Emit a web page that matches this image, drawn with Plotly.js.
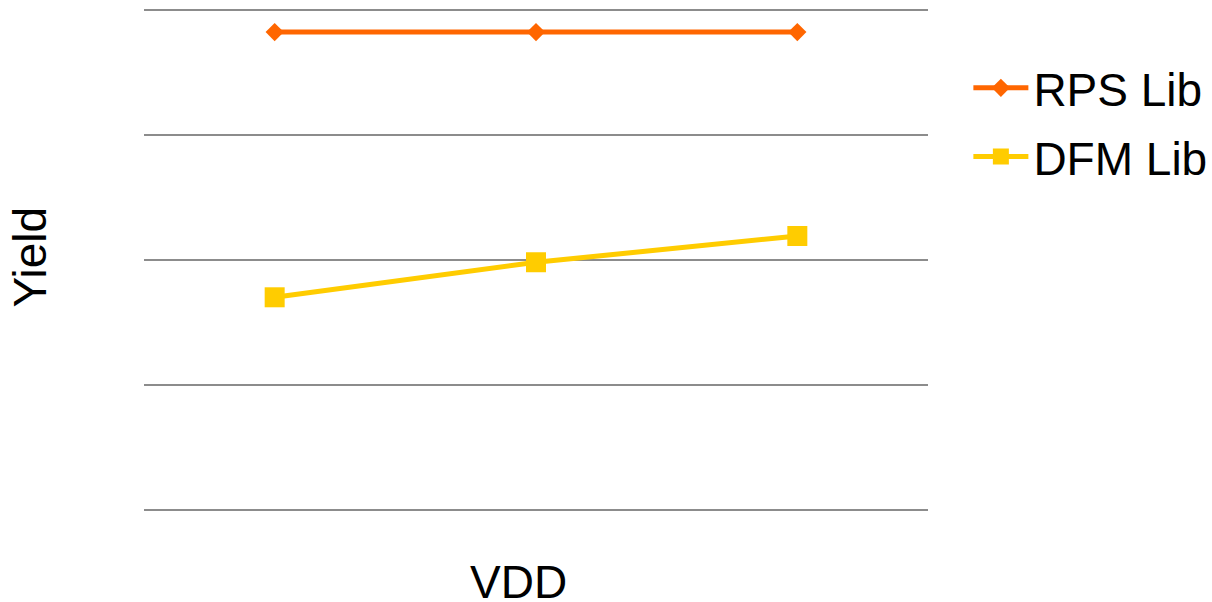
<!DOCTYPE html>
<html>
<head>
<meta charset="utf-8">
<script src="https://cdn.plot.ly/plotly-3.0.1.min.js"></script>
<style>
  html, body { margin: 0; padding: 0; background: #ffffff; }
  #chart { width: 1212px; height: 602px; }
</style>
</head>
<body>
<div id="chart"></div>
<script>
// VDD steps along the horizontal axis (no tick labels are shown)
const vddSteps = [1, 2, 3];

// Yield per library, on a 0–4 grid scale
const rpsYield = [3.82, 3.82, 3.82];
const dfmYield = [1.70, 1.98, 2.19];

const seriesNames = ['RPS Lib', 'DFM Lib'];
const axisTitles = { x: 'VDD', y: 'Yield' };

const fontFamily = 'Arial, "Liberation Sans", Helvetica, sans-serif';

const traces = [
  {
    x: vddSteps,
    y: rpsYield,
    name: seriesNames[0],
    legendgroup: 'rps',
    type: 'scatter',
    mode: 'lines+markers',
    line: { color: '#FF6600', width: 5 },
    marker: { symbol: 'diamond', size: 14, color: '#FF6600' }
  },
  {
    x: vddSteps,
    y: dfmYield,
    name: seriesNames[1],
    legendgroup: 'dfm',
    type: 'scatter',
    mode: 'lines+markers',
    line: { color: '#FFCC00', width: 5 },
    marker: { symbol: 'square', size: 20, color: '#FFCC00' }
  }
];

const layout = {
  width: 1212,
  height: 602,
  paper_bgcolor: '#ffffff',
  plot_bgcolor: '#ffffff',
  // fixed plot frame: the legend sits in the right margin without resizing it
  margin: { l: 144, r: 284, t: 5, b: 87, autoexpand: false },
  font: { family: fontFamily, size: 46, color: '#000000' },
  showlegend: true,
  legend: {
    x: 0.0515 + 1, xanchor: 'left',
    y: 0.909, yanchor: 'top',
    font: { family: fontFamily, size: 46, color: '#000000' },
    itemwidth: 55,
    tracegroupgap: 6,
    bgcolor: 'rgba(0,0,0,0)'
  },
  xaxis: {
    range: [0.5, 3.5],
    showticklabels: false,
    ticks: '',
    showgrid: false,
    zeroline: false,
    showline: false
  },
  yaxis: {
    range: [-0.04, 4.036],
    tickvals: [0, 1, 2, 3, 4],
    showticklabels: false,
    ticks: '',
    showgrid: true,
    gridcolor: '#8c8c8c',
    gridwidth: 2,
    zeroline: false,
    showline: false
  },
  annotations: [
    {
      text: axisTitles.x,
      xref: 'paper', yref: 'paper',
      x: (518 - 144) / 784, y: (515 - 582) / 510,
      xanchor: 'center', yanchor: 'middle',
      showarrow: false,
      font: { family: fontFamily, size: 46, color: '#000000' }
    },
    {
      text: axisTitles.y,
      xref: 'paper', yref: 'paper',
      x: (29 - 144) / 784, y: (515 - 256.5) / 510,
      xanchor: 'center', yanchor: 'middle',
      textangle: -90,
      showarrow: false,
      font: { family: fontFamily, size: 46, color: '#000000' }
    }
  ]
};

Plotly.newPlot('chart', traces, layout, { displayModeBar: false, staticPlot: true });
</script>
</body>
</html>
